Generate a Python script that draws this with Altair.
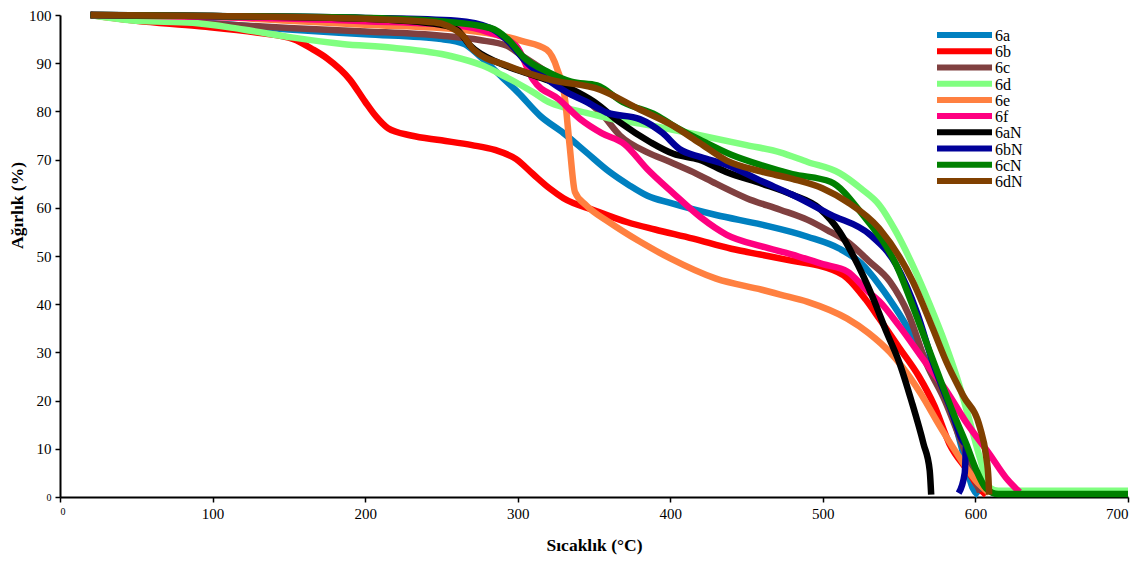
import altair as alt
import pandas as pd

series = ["6a", "6b", "6c", "6d", "6e", "6f", "6aN", "6bN", "6cN", "6dN"]
colors = ["#0080C0", "#FF0000", "#804040", "#80FF80", "#FF8040",
          "#FF0080", "#000000", "#000099", "#008000", "#804000"]

t_6a = [20, 60, 100, 150, 200, 250, 265, 275, 290, 300, 315, 330, 345, 360, 373, 385, 400, 430, 460, 490, 511, 525, 537, 550, 563, 575, 585, 592, 598, 602]
w_6a = [100, 99, 98.3, 97, 96, 95, 94, 91.5, 87, 84, 79, 75.5, 71.5, 67.5, 64.7, 62.5, 61, 58.5, 56.5, 54, 51.5, 48.5, 44, 38, 31, 24, 17, 9, 2, 0.3]

t_6b = [20, 50, 90, 130, 153, 165, 175, 190, 200, 207, 215, 230, 250, 270, 285, 299, 310, 321, 330, 350, 372, 390, 415, 440, 459, 480, 500, 516, 528, 537, 550, 563, 573, 583, 596, 602, 607]
w_6b = [100, 98.8, 97.7, 96.3, 95, 93, 91, 86.6, 82, 79, 76.5, 75, 74, 73, 72, 70.1, 67, 64, 62, 59.5, 57, 55.5, 53.6, 51.5, 50.3, 49, 47.8, 45.4, 41, 37, 31, 25, 19, 11, 5, 2, 0.4]

t_6c = [20, 60, 100, 150, 200, 250, 275, 293, 303, 315, 328, 340, 355, 367, 385, 400, 415, 430, 450, 472, 490, 505, 516, 530, 544, 556, 568, 580, 590, 597, 603]
w_6c = [100, 99, 98.2, 97.3, 96.6, 95.7, 94.8, 93.6, 91.5, 89, 86, 83.5, 79.5, 75, 71.5, 69.5, 67.4, 65, 62, 59.6, 57.5, 55, 53, 49, 44.7, 38, 27.6, 20, 12, 6, 1]

t_6d = [20, 50, 87, 120, 153, 185, 218, 256, 277, 290, 299, 310, 320, 332, 345, 362, 380, 400, 420, 450, 472, 490, 511, 525, 537, 548, 559, 570, 580, 588, 596, 603, 609, 615, 700]
w_6d = [100, 98.8, 98.4, 97, 95.3, 94, 93.2, 91.5, 89.5, 87.5, 86, 84, 82, 80.7, 79.7, 78.4, 77.5, 76.3, 75, 73, 71.5, 69.5, 67.2, 64, 60.6, 55, 48, 40, 32, 24.7, 16, 8, 2, 1.3, 1.3]

t_6e = [20, 87, 150, 200, 262, 303, 319, 326, 331, 334, 337.5, 345, 360, 380, 400, 430, 460, 472, 490, 516, 530, 544, 552, 564, 577, 590, 600, 609]
w_6e = [100, 99.8, 98.8, 98, 97, 94.6, 92.8, 88.7, 82.5, 73, 63.3, 60.5, 57, 53, 49.5, 45.3, 43, 42, 40.5, 37, 34, 30, 27, 21.5, 14.5, 8, 3.5, 0.8]

t_6f = [20, 100, 200, 260, 280, 299, 310, 327, 341, 355, 370, 385, 402, 420, 437, 460, 480, 500, 516, 530, 537, 550, 568, 580, 595, 609, 620, 629]
w_6f = [100, 99.6, 98.7, 97.8, 96.5, 93.6, 86.6, 82.5, 78.4, 75.5, 73.2, 68, 63, 58, 54.4, 52, 50.3, 48.3, 46.8, 42.5, 40.6, 35.5, 27.6, 22.5, 15, 9, 4, 1]

t_6aN = [20, 100, 200, 249, 260, 269, 288, 310, 336, 350, 367, 387, 402, 419, 437, 460, 480, 498, 511, 520, 533, 542, 550, 558, 566, 570, 571]
w_6aN = [100, 99.8, 99.2, 98, 97, 93.6, 90, 87.5, 84.5, 82, 77.7, 73.6, 71.2, 70, 67.4, 65, 62.7, 59.8, 55, 50, 41.2, 34, 28, 20, 11, 5.6, 0.5]

t_6bN = [20, 100, 200, 260, 282, 293, 306, 320, 332, 345, 358, 380, 395, 406, 420, 437, 460, 480, 505, 531, 548, 562, 572, 583, 594, 593, 589]
w_6bN = [100, 99.8, 99.4, 98.8, 97.3, 94.8, 90.1, 86.5, 84, 82, 79.8, 78.4, 75.5, 72.2, 70.5, 68.9, 65.5, 62.7, 58.6, 54.4, 48.2, 38, 28, 19, 11, 5, 0.8]

t_6cN = [20, 100, 200, 249, 282, 295, 303, 321, 335, 352, 369, 391, 405, 419, 440, 459, 480, 505, 526, 548, 562, 575, 586, 594, 600, 607, 615, 700]
w_6cN = [100, 99.8, 99.4, 98.7, 97.3, 94.5, 91.5, 88, 86.2, 85.4, 81.9, 79.2, 76.5, 74.2, 71, 68.9, 67, 65.4, 58.6, 48.2, 37, 26, 17, 11, 6, 1.8, 0.6, 0.6]

t_6dN = [20, 100, 200, 245, 264, 271, 293, 321, 354, 380, 402, 419, 437, 460, 480, 500, 516, 537, 559, 572, 581, 592, 603, 607, 608.5, 609]
w_6dN = [100, 99.8, 99.2, 98.5, 95.7, 92.8, 89.5, 86.6, 84.5, 80.4, 77, 73.5, 69.8, 67.5, 66, 64, 61.2, 55.7, 44.7, 35, 28, 21, 14.4, 8.5, 4, 0.5]

x_ticks = [0, 100, 200, 300, 400, 500, 600, 700]
y_ticks = [0, 10, 20, 30, 40, 50, 60, 70, 80, 90, 100]

all_t = [t_6a, t_6b, t_6c, t_6d, t_6e, t_6f, t_6aN, t_6bN, t_6cN, t_6dN]
all_w = [w_6a, w_6b, w_6c, w_6d, w_6e, w_6f, w_6aN, w_6bN, w_6cN, w_6dN]

rows = []
for name, ts, ws in zip(series, all_t, all_w):
    for i, (a, b) in enumerate(zip(ts, ws)):
        rows.append({"series": name, "T": a, "W": b, "i": i})
df = pd.DataFrame(rows)
legend_df = pd.DataFrame({"series": series})

FONT = "Liberation Serif"
small_zero = {"condition": {"test": "datum.value == 0", "value": 10}, "value": 15}
color_enc = alt.Color("series:N", scale=alt.Scale(domain=series, range=colors), legend=None)

lines = alt.Chart(df).mark_line(
    strokeWidth=6.5, interpolate="monotone", strokeCap="butt"
).encode(
    x=alt.X("T:Q", scale=alt.Scale(domain=[0, 700], nice=False),
            axis=alt.Axis(values=x_ticks, title="Sıcaklık (°C)", format="d",
                          labelFontSize=small_zero, titleY=48,
                          titleBaseline="middle")),
    y=alt.Y("W:Q", scale=alt.Scale(domain=[0, 100], nice=False),
            axis=alt.Axis(values=y_ticks, title="Ağırlık (%)", format="d",
                          labelFontSize=small_zero, titleX=-43, titleY=190,
                          titleAngle=-90, titleAlign="center",
                          titleBaseline="middle")),
    color=color_enc,
    order="i:Q",
)

leg_y = alt.Y("series:N", scale=alt.Scale(type="point", domain=series, range=[20, 166], padding=0), axis=None)

leg_rules = alt.Chart(legend_df).mark_rule(strokeWidth=6, strokeCap="butt").encode(
    x=alt.value(877), x2=alt.value(932), y=leg_y, color=color_enc,
)
leg_text = alt.Chart(legend_df).mark_text(
    align="left", baseline="middle", font=FONT, fontSize=16, color="#000000", dy=1
).encode(
    x=alt.value(935), y=leg_y, text="series:N",
)

chart = alt.layer(lines, leg_rules, leg_text).resolve_scale(y="independent").properties(
    width=1068, height=482,
    padding={"left": 52, "top": 7, "right": 12, "bottom": 60},
    autosize=alt.AutoSizeParams(type="none"),
).configure_view(stroke=None).configure_axis(
    grid=False, domainColor="#000000", domainWidth=2, tickColor="#000000",
    tickWidth=1.5, tickSize=5, labelFont=FONT, labelColor="#000000",
    titleFont=FONT, titleFontSize=17.5, titleFontWeight="bold",
    titleColor="#000000", labelPadding=4,
)

chart.save("out.html", embed_options={"renderer": "svg", "actions": False})
